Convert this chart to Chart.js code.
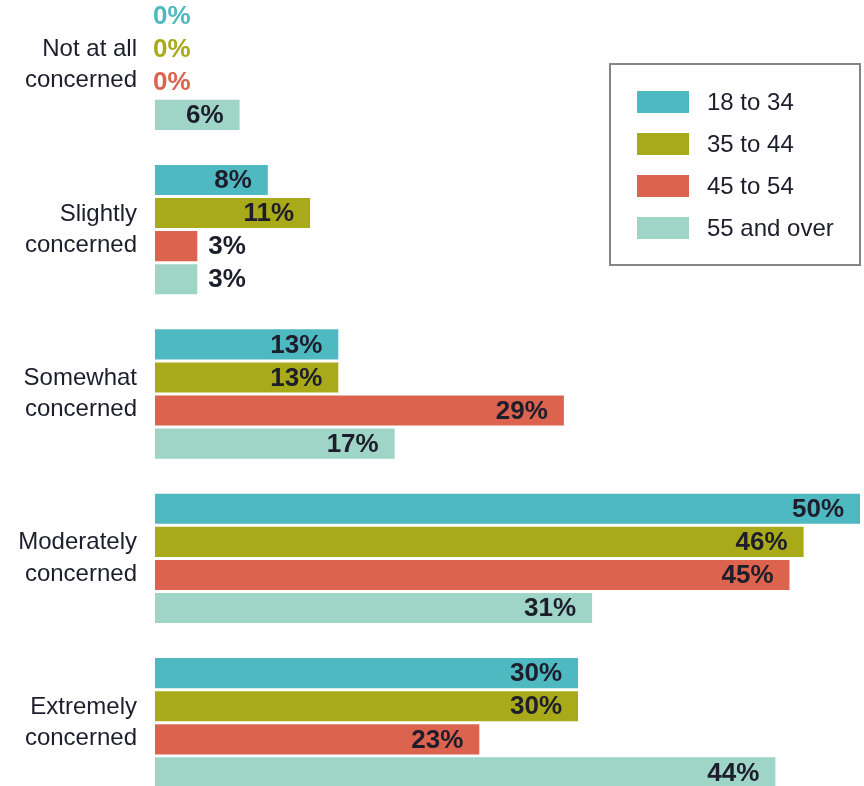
<!DOCTYPE html>
<html>
<head>
<meta charset="utf-8">
<script src="https://cdn.jsdelivr.net/npm/chart.js@4.4.1/dist/chart.umd.min.js"></script>
<style>
  html, body { margin: 0; padding: 0; background: #fff; overflow: hidden; width: 864px; height: 786px; }
  #wrap { position: absolute; left: 0; top: -17px; width: 864px; height: 822px; }
</style>
</head>
<body>
<div id="wrap"><canvas id="chart" width="864" height="822"></canvas></div>
<script>
// Level of concern, by age group (percent of respondents)
const categories = [
  ['Not at all', 'concerned'],
  ['Slightly', 'concerned'],
  ['Somewhat', 'concerned'],
  ['Moderately', 'concerned'],
  ['Extremely', 'concerned']
];
const seriesNames = ['18 to 34', '35 to 44', '45 to 54', '55 and over'];
const age18to34 = [0, 8, 13, 50, 30];
const age35to44 = [0, 11, 13, 46, 30];
const age45to54 = [0, 3, 29, 45, 23];
const age55plus = [6, 3, 17, 31, 44];
const seriesValues = [age18to34, age35to44, age45to54, age55plus];
const seriesColors = ['#4fb9c1', '#a9aa19', '#dc634e', '#9ed5c7'];

const FONT = '"Liberation Sans", Arial, sans-serif';
const TEXT = '#1d1d2b';

// Percent labels: inside the bar end when they fit, otherwise just past it
const valueLabels = {
  id: 'valueLabels',
  afterDatasetsDraw(chart) {
    const ctx = chart.ctx;
    ctx.save();
    ctx.font = 'bold 26px ' + FONT;
    ctx.textBaseline = 'middle';
    chart.data.datasets.forEach((ds, di) => {
      const meta = chart.getDatasetMeta(di);
      meta.data.forEach((bar, i) => {
        const v = ds.data[i];
        const txt = v + '%';
        const w = ctx.measureText(txt).width;
        const len = bar.x - bar.base;
        if (v === 0) {
          ctx.fillStyle = ds.backgroundColor;
          ctx.textAlign = 'left';
          ctx.fillText(txt, bar.base - 2, bar.y + 1);
        } else if (len >= w + 30) {
          ctx.fillStyle = TEXT;
          ctx.textAlign = 'right';
          ctx.fillText(txt, bar.x - 16, bar.y + 1);
        } else {
          ctx.fillStyle = TEXT;
          ctx.textAlign = 'left';
          ctx.fillText(txt, bar.x + 11, bar.y + 1);
        }
      });
    });
    ctx.restore();
  }
};

// Boxed legend in the upper right
const boxLegend = {
  id: 'boxLegend',
  afterDraw(chart) {
    const ctx = chart.ctx;
    const bx = 610, by = 64 + 17, bw = 250, bh = 201;
    ctx.save();
    ctx.strokeStyle = '#858585';
    ctx.lineWidth = 2;
    ctx.strokeRect(bx, by, bw, bh);
    ctx.font = '24px ' + FONT;
    ctx.textBaseline = 'middle';
    ctx.textAlign = 'left';
    chart.data.datasets.forEach((ds, i) => {
      const cy = by + 38 + i * 42;
      ctx.fillStyle = ds.backgroundColor;
      ctx.fillRect(bx + 27, cy - 11, 52, 22);
      ctx.fillStyle = TEXT;
      ctx.fillText(ds.label, bx + 97, cy + 1);
    });
    ctx.restore();
  }
};

new Chart(document.getElementById('chart'), {
  type: 'bar',
  data: {
    labels: categories,
    datasets: seriesNames.map((name, i) => ({
      label: name,
      data: seriesValues[i],
      backgroundColor: seriesColors[i],
      borderWidth: 0,
      categoryPercentage: 0.805,
      barPercentage: 0.91
    }))
  },
  options: {
    indexAxis: 'y',
    responsive: false,
    animation: false,
    devicePixelRatio: 1,
    layout: { padding: { left: 0, right: 4, top: 0, bottom: 0 } },
    plugins: {
      legend: { display: false },
      tooltip: { enabled: false }
    },
    scales: {
      x: { display: false, min: 0, max: 50 },
      y: {
        grid: { display: false, drawTicks: false },
        border: { display: false },
        ticks: {
          padding: 18,
          color: TEXT,
          font: { family: FONT, size: 24, lineHeight: 1.3 }
        },
        afterFit(scale) {
          scale.width = 155;
          scale.paddingTop = 0;
          scale.paddingBottom = 0;
        }
      }
    }
  },
  plugins: [valueLabels, boxLegend]
});
</script>
</body>
</html>
